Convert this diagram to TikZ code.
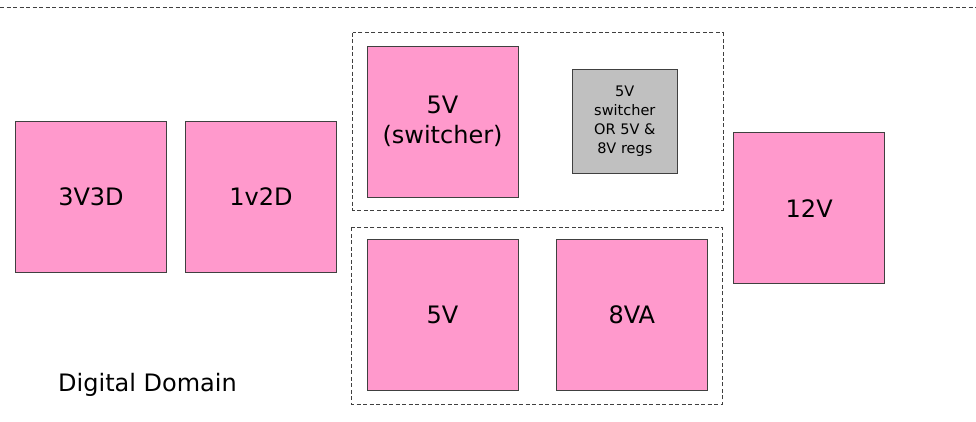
\documentclass[tikz,border=0pt]{standalone}
\usepackage{fontspec}
\setmainfont{DejaVu Sans}
\definecolor{boxpink}{HTML}{FF99CC}
\definecolor{boxgray}{HTML}{C0C0C0}
\definecolor{edge}{HTML}{404040}
\begin{document}
\begin{tikzpicture}[x=1pt,y=-1pt,
  pinkbox/.style={draw=edge, line width=0.7pt, fill=boxpink, minimum width=151pt, minimum height=151pt, inner sep=0pt, align=center, font=\fontsize{24}{30}\selectfont},
  graybox/.style={draw=edge, line width=0.7pt, fill=boxgray, minimum width=105pt, minimum height=104pt, inner sep=0pt, align=center, font=\fontsize{14.5}{19}\selectfont},
  groupbox/.style={draw=edge, line width=0.7pt, dash pattern=on 4pt off 2.5pt},
  label/.style={font=\fontsize{24}{30}\selectfont}]
\useasboundingbox (0,0) rectangle (976,421);
\draw[groupbox] (0,7) -- (976,7);
\draw[groupbox] (352.7,32.7) rectangle (723,210);
\draw[groupbox] (351.7,227.3) rectangle (722.3,404.3);
\node[pinkbox] (n3v3d) at (91,196.8) {3V3D};
\node[pinkbox] (n1v2d) at (261,196.8) {1v2D};
\node[pinkbox] (sw5v) at (442.5,121.7) {5V\\(switcher)};
\node[graybox] (opt) at (624.8,121.3) {5V\\switcher\\OR 5V \&\\8V regs};
\node[pinkbox] (n5v) at (442.5,314.5) {5V};
\node[pinkbox] (n8va) at (631.8,314.5) {8VA};
\node[pinkbox] (n12v) at (809.2,208.2) {12V};
\node[label] (dd) at (147.5,385) {Digital Domain};
\end{tikzpicture}
\end{document}
